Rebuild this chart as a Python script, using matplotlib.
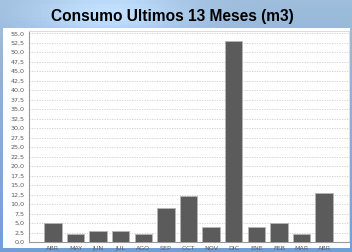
import matplotlib
matplotlib.use("Agg")
import matplotlib.pyplot as plt
import numpy as np
from matplotlib.patches import Rectangle

months = ["ABR", "MAY", "JUN", "JUL", "AGO", "SEP", "OCT", "NOV", "DIC", "ENE", "FEB", "MAR", "ABR"]
values = [5, 2, 3, 3, 2, 9, 12, 4, 53, 4, 5, 2, 13]
yticks = [i * 2.5 for i in range(23)]
ytick_labels = [f"{v:.1f}".replace(".", ",") for v in yticks]
title = "Consumo Ultimos 13 Meses (m3)"

W, H = 352, 252
fig = plt.figure(figsize=(W / 100, H / 100), dpi=100)

# sky background
bg = fig.add_axes([0, 0, 1, 1])
yy = np.linspace(0, 1, 60)[:, None]
xx = np.linspace(0, 1, 100)[None, :]
top = np.array([0.62, 0.74, 0.86])
bot = np.array([0.45, 0.62, 0.84])
img = (top * (1 - yy[..., None]) + bot * yy[..., None]) * np.ones_like(xx)[..., None]
img = img + 0.15 * np.exp(-((xx[..., None] - 0.3) ** 2) / 0.05) * np.exp(-((yy[..., None] - 0.05) ** 2) / 0.01)
img = np.clip(img, 0, 1)
bg.imshow(img, aspect="auto", extent=[0, 1, 0, 1], origin="upper")
bg.set_xlim(0, 1); bg.set_ylim(0, 1)
bg.axis("off")
# white panel
bg.add_patch(Rectangle((3 / W, 1 - 248 / H), (350 - 3) / W, (248 - 28) / H, facecolor="white", edgecolor="none"))

bg.text(172 / W, 1 - 16 / H, title, ha="center", va="center", fontsize=11.2,
        fontweight="bold", family="Liberation Sans", color="black")

ax = fig.add_axes([29 / W, 1 - 242 / H, (349 - 29) / W, (242 - 31) / H])
ax.set_facecolor("white")
x = np.arange(len(months))
ax.bar(x, values, width=0.77, color="#5b5b5b", edgecolor="#b5b5b5", linewidth=0.6, zorder=3)
ax.set_ylim(0, 55.6)
ax.set_xlim(-1.06, len(months) - 1 + 1.1)
ax.set_yticks(yticks)
ax.set_yticklabels(ytick_labels)
ax.set_xticks(x)
ax.set_xticklabels(months)
ax.tick_params(axis="both", length=0, labelsize=4.6, labelcolor="#5a5a5a", pad=3)
ax.yaxis.grid(True, linestyle=(0, (1.5, 1.5)), color="#cccccc", linewidth=0.6, zorder=0)
for s in ["top", "right"]:
    ax.spines[s].set_color("#dddddd")
    ax.spines[s].set_linewidth(0.8)
for s in ["left", "bottom"]:
    ax.spines[s].set_color("#999999")
    ax.spines[s].set_linewidth(0.8)
for lab in ax.get_yticklabels() + ax.get_xticklabels():
    lab.set_family("DejaVu Sans")

fig.savefig("out.png", dpi=100)
